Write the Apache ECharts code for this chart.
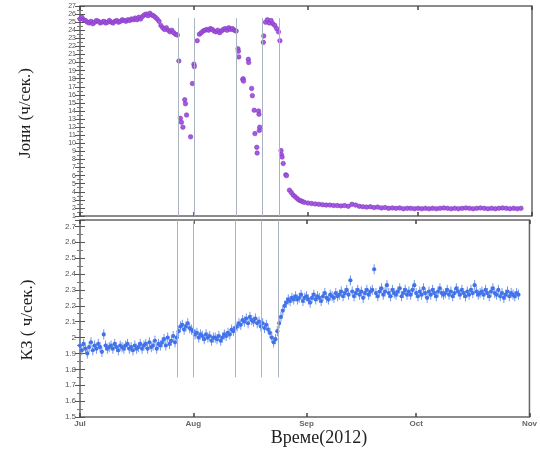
<!DOCTYPE html>
<html><head><meta charset="utf-8">
<script src="https://cdn.jsdelivr.net/npm/echarts@6/dist/echarts.min.js"></script>
<style>html,body{margin:0;padding:0;background:#fff}#c{width:540px;height:450px}</style>
</head><body><div id="c"></div>
<script>
// ---- data ----
const monthTickDays = [0, 31, 62, 92, 123];          // days from 1 Jul 2012
const monthLabels = ['Jul', 'Aug', 'Sep', 'Oct', 'Nov'];
const eventDays = [26.7, 31.0, 42.4, 49.7, 54.2];

const ionDays = [
  0,0.5,1,1.5,2,2.5,3,3.5,4,4.5,5,5.5,6,6.5,7,7.5,8,8.5,9,9.5,10,10.5,11,11.5,12,12.5,13,13.5,
  14,14.5,15,15.5,16,16.5,17,17.5,18,18.5,19,19.5,20,20.5,21,21.5,22,22.5,23,23.5,24,24.5,25,25.5,26,26.5,
  26.9,27.3,27.6,28.0,28.5,28.7,29.0,30.1,30.6,31.0,31.1,31.9,
  32.5,33,33.5,34,34.5,35,35.5,36,36.5,37,37.5,38,38.5,39,39.5,40,40.5,41,41.5,42,42.5,
  43.0,43.1,43.2,44.3,44.4,44.5,45.8,45.9,46.7,46.9,47.4,47.6,48.1,48.2,48.6,48.7,48.8,48.9,
  49.9,50.0,50.5,51,51.5,52,52.5,53,53.5,54.0,54.4,
  54.7,54.8,55.0,55.3,56.0,56.2,57.0,57.5,58,58.5,59,59.5,60,60.5,
  61,62,63,64,65,66,67,68,69,70,71,72,73,74,75,76,77,78,79,80,81,82,83,84,85,86,87,88,89,90,
  91,92,93,94,95,96,97,98,99,100,101,102,103,104,105,106,107,108,109,110,111,112,113,114,115,116,117,118,119,120
];
const ionValues = [
  25.4,25.6,25.3,25.2,25.0,24.9,25.1,24.8,25.0,25.2,25.1,24.9,25.0,25.1,24.9,25.0,25.2,25.0,24.9,25.1,25.2,25.0,25.1,25.3,25.2,25.1,25.3,25.2,
  25.4,25.3,25.5,25.3,25.6,25.4,25.7,25.9,26.0,25.8,26.1,25.9,25.8,25.6,25.4,25.1,24.6,24.3,24.1,24.3,24.0,23.8,24.0,23.7,23.5,23.4,
  20.2,13.1,12.6,12.0,15.4,14.9,13.5,10.8,17.4,19.8,19.5,22.7,
  23.5,23.7,23.9,24.0,24.1,24.0,24.2,24.1,23.9,23.8,24.0,23.7,23.9,24.1,24.2,24.0,24.3,24.1,24.2,24.0,23.9,
  21.7,21.4,20.7,17.9,18.0,17.7,20.4,20.0,16.8,15.9,14.1,11.2,9.5,8.8,14.0,13.6,11.6,12.0,
  22.5,23.3,25.0,25.3,24.9,25.2,24.8,24.6,24.2,23.8,22.7,
  9.1,8.6,8.3,7.5,6.1,6.0,4.2,3.9,3.6,3.4,3.2,3.0,2.9,2.8,
  2.7,2.6,2.55,2.5,2.45,2.4,2.35,2.35,2.3,2.3,2.25,2.3,2.2,2.45,2.35,2.2,2.15,2.1,2.15,2.05,2.1,2.0,2.05,1.95,2.0,1.95,2.0,1.9,1.95,1.95,
  1.9,1.95,1.9,1.95,1.9,1.95,1.9,1.95,2.0,1.95,1.9,1.95,1.9,1.95,2.0,1.95,1.9,1.95,2.0,1.95,1.9,1.95,1.9,1.95,2.0,1.95,1.9,1.95,1.9,1.95
];

const k3StepDays = 0.5;   // one value every 12 h from 1 Jul 2012
const k3Values = [
  1.95,1.92,1.96,1.93,1.90,1.94,1.97,1.92,1.95,1.93,1.96,1.94,1.91,2.02,1.95,1.93,
  1.94,1.95,1.93,1.96,1.94,1.92,1.95,1.94,1.93,1.95,1.96,1.93,1.94,1.92,1.95,1.93,1.94,1.96,1.93,1.95,
  1.96,1.93,1.97,1.94,1.95,1.98,1.93,1.96,1.95,1.97,
  1.99,1.95,2.00,1.96,1.98,2.01,1.97,2.00,
  2.04,2.07,2.08,2.05,2.07,2.09,2.06,2.05,
  2.04,2.02,2.03,2.00,2.02,2.01,1.99,2.02,2.00,2.01,1.98,2.00,
  2.00,1.99,2.01,1.98,2.00,2.02,2.01,2.03,2.02,2.05,2.04,2.06,
  2.07,2.09,2.08,2.11,2.10,2.12,2.09,2.13,2.11,2.10,2.12,2.09,
  2.10,2.07,2.09,2.06,2.08,2.05,
  2.03,2.00,1.97,1.99,
  2.04,2.09,2.13,2.17,2.20,
  2.22,2.24,2.23,2.25,2.24,
  2.26,2.24,2.25,2.27,2.23,2.25,2.26,2.24,2.22,2.25,2.27,2.24,2.26,2.25,2.23,2.26,2.28,2.25,2.24,2.27,2.26,2.25,2.28,2.26,
  2.27,2.29,2.26,2.28,2.30,2.27,2.36,2.29,2.26,2.28,2.30,2.27,2.29,2.25,2.28,2.30,2.27,2.29,
  2.30,2.43,2.28,2.26,2.29,2.31,2.27,2.29,2.33,2.28,2.26,2.30,2.28,2.27,2.29,2.31,2.26,2.28,2.30,2.27,
  2.29,2.27,2.30,2.33,2.28,2.26,2.29,2.27,2.31,2.28,2.25,2.29,2.27,2.30,2.28,2.26,2.29,2.31,2.28,2.27,
  2.28,2.30,2.27,2.29,2.26,2.28,2.31,2.29,2.27,2.30,2.28,2.26,2.29,2.27,2.30,2.28,2.33,2.29,2.27,2.28,
  2.29,2.27,2.30,2.28,2.26,2.29,2.31,2.28,2.27,2.30,2.26,2.28,2.25,2.27,2.29,2.26,2.28,2.27,2.26,2.28,2.27
];
const k3Error = 0.032;

const ionAxis = { min: 1, max: 27, step: 1 };
const k3Axis = { min: 1.5, max: 2.74, step: 0.1 };
const ionLineSpan = [25.5, 1];
const k3LineSpan = [2.74, 1.75];

const yTitleTop = 'Јони (ч/сек.)';
const yTitleBottom = 'КЗ ( ч/сек.)';
const xTitle = 'Време(2012)';

// ---- chart ----
const chart = echarts.init(document.getElementById('c'), null, { renderer: 'canvas' });
const ionData = ionDays.map((d, i) => [d, ionValues[i]]);
const k3Data = k3Values.map((v, i) => [i * k3StepDays, v]);

function xAx(grid, pos, labels) {
  return {
    type: 'value', gridIndex: grid, position: pos, min: monthTickDays[0], max: monthTickDays[monthTickDays.length - 1],
    splitLine: { show: false }, axisLine: { show: false },
    axisTick: { show: true, inside: true, length: 4, customValues: monthTickDays, lineStyle: { color: '#444', width: 1.5 } },
    axisLabel: labels ? {
      show: true, customValues: monthTickDays, margin: 3, fontSize: 8, fontWeight: 'bold', color: '#666',
      fontFamily: 'Liberation Sans',
      formatter: v => { const k = monthTickDays.indexOf(Math.round(v)); return k >= 0 ? monthLabels[k] : ''; }
    } : { show: false }
  };
}
function yAx(grid, pos, ax, labels, fs) {
  return {
    type: 'value', gridIndex: grid, position: pos, min: ax.min, max: ax.max, interval: ax.step,
    splitLine: { show: false }, axisLine: { show: false },
    axisTick: { show: true, inside: true, length: 5, lineStyle: { color: '#555' } },
    minorTick: { show: true, splitNumber: 2, length: 3, lineStyle: { color: '#777' } },
    axisLabel: labels ? { show: true, fontSize: fs, margin: 4, color: '#555', fontFamily: 'Liberation Sans', showMaxLabel: ax.max % 1 === 0 } : { show: false }
  };
}

const lineStyle = { color: '#a9b3c2', width: 1, type: 'solid' };
chart.setOption({
  animation: false,
  backgroundColor: '#fff',
  grid: [
    { left: 80, right: 8, top: 6, height: 210, show: true, borderColor: '#666', borderWidth: 1.5, backgroundColor: 'transparent' },
    { left: 80, right: 8, top: 220, height: 197, show: true, borderColor: '#666', borderWidth: 1.5, backgroundColor: 'transparent' }
  ],
  xAxis: [xAx(0, 'bottom', false), xAx(0, 'top', false), xAx(1, 'bottom', true), xAx(1, 'top', false)],
  yAxis: [yAx(0, 'left', ionAxis, true, 7), yAx(0, 'right', ionAxis, false, 7),
          yAx(1, 'left', k3Axis, true, 8), yAx(1, 'right', k3Axis, false, 8)],
  series: [
    {
      type: 'scatter', xAxisIndex: 0, yAxisIndex: 0, data: ionData, symbolSize: 4.5, z: 3,
      itemStyle: { color: '#a24ee6', borderColor: '#7d3bb5', borderWidth: 0.6, opacity: 0.95 },
      markLine: { silent: true, symbol: 'none', label: { show: false }, lineStyle: lineStyle,
        data: eventDays.map(d => [{ coord: [d, ionLineSpan[0]] }, { coord: [d, ionLineSpan[1]] }]) }
    },
    {
      type: 'custom', xAxisIndex: 2, yAxisIndex: 2, data: k3Data, z: 3,
      renderItem: function (params, api) {
        const x = api.value(0), y = api.value(1);
        const c = api.coord([x, y]);
        const t = api.coord([x, y + k3Error]);
        const b = api.coord([x, y - k3Error]);
        return { type: 'group', children: [
          { type: 'line', shape: { x1: c[0], y1: t[1], x2: c[0], y2: b[1] }, style: { stroke: '#7096f0', lineWidth: 1 } },
          { type: 'circle', shape: { cx: c[0], cy: c[1], r: 2.1 }, style: { fill: '#4272e8' } }
        ]};
      }
    },
    {
      type: 'scatter', xAxisIndex: 2, yAxisIndex: 2, data: [], z: 2,
      markLine: { silent: true, symbol: 'none', label: { show: false }, lineStyle: lineStyle,
        data: eventDays.map(d => [{ coord: [d, k3LineSpan[0]] }, { coord: [d, k3LineSpan[1]] }]) }
    }
  ],
  graphic: [
    { type: 'text', x: 26, y: 113, rotation: Math.PI / 2,
      style: { text: yTitleTop, font: '17px "Liberation Serif"', fill: '#222', textAlign: 'center', textVerticalAlign: 'middle' } },
    { type: 'text', x: 28, y: 320, rotation: Math.PI / 2,
      style: { text: yTitleBottom, font: '17px "Liberation Serif"', fill: '#222', textAlign: 'center', textVerticalAlign: 'middle' } },
    { type: 'text', x: 319, y: 438,
      style: { text: xTitle, font: '18px "Liberation Serif"', fill: '#222', textAlign: 'center', textVerticalAlign: 'middle' } }
  ]
});
</script></body></html>
